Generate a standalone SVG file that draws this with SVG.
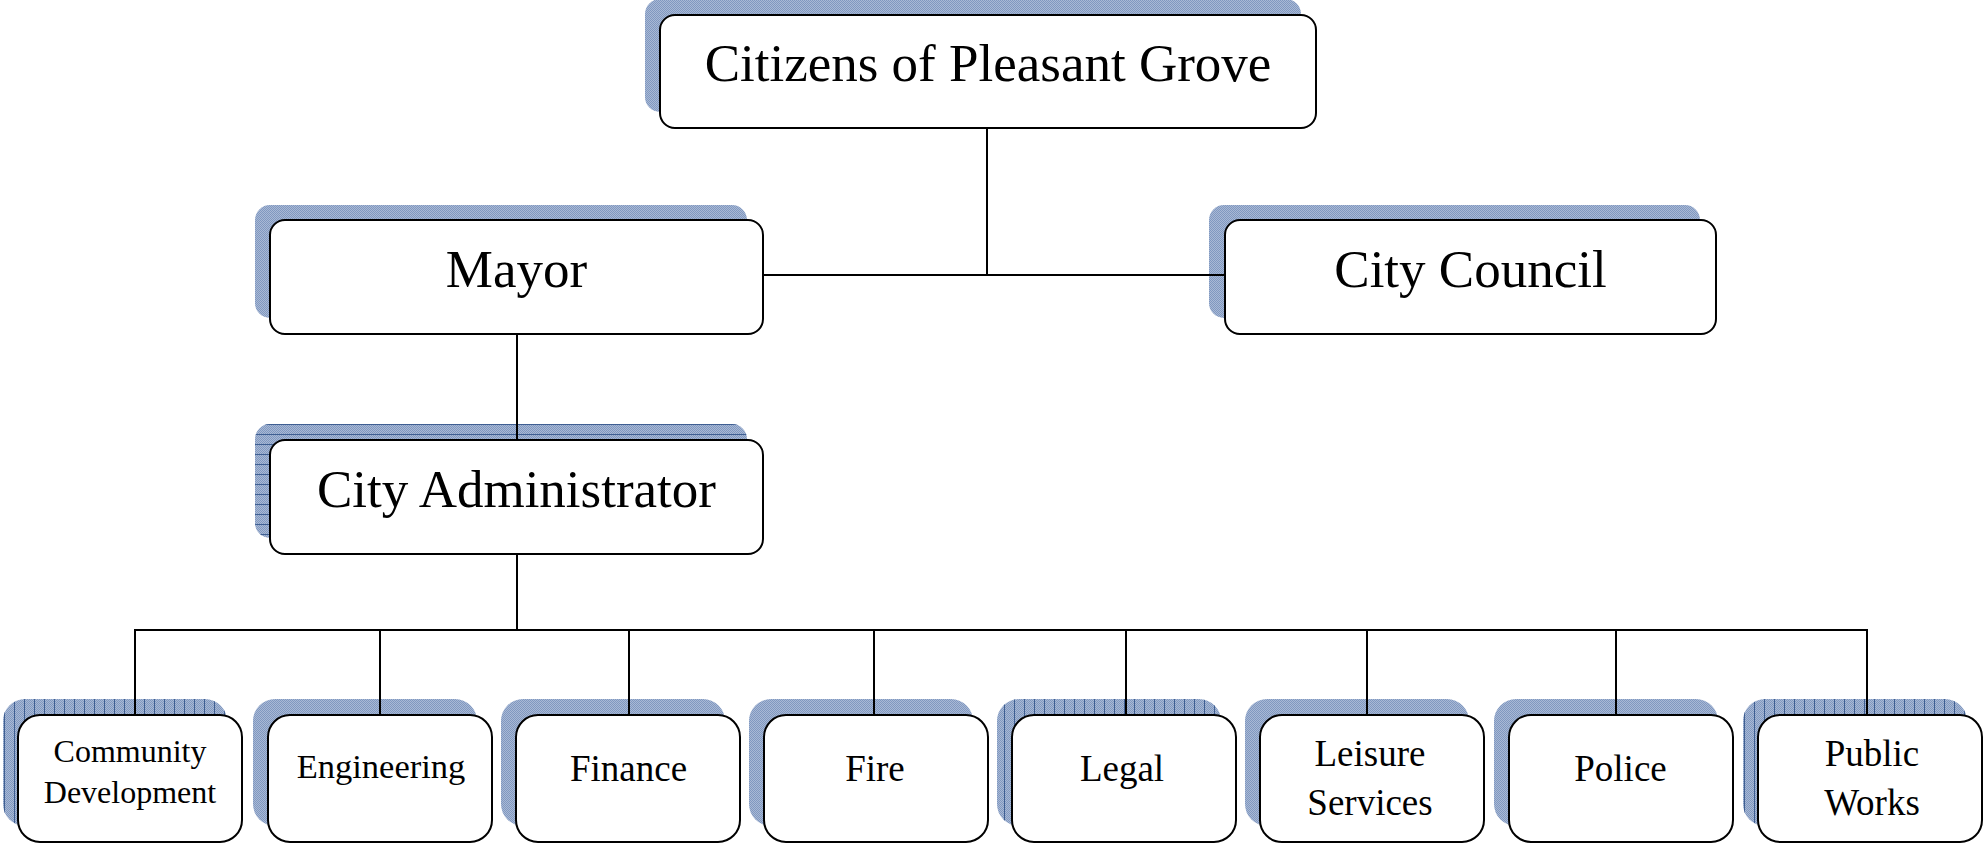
<svg xmlns="http://www.w3.org/2000/svg" width="1986" height="846" viewBox="0 0 1986 846">
<defs>
<pattern id="dither" patternUnits="userSpaceOnUse" width="2" height="2">
<rect width="2" height="2" fill="#a9b9d5"/>
<rect width="1" height="1" fill="#8098c0"/>
<rect x="1" y="1" width="1" height="1" fill="#8098c0"/>
</pattern>
<pattern id="vlines" patternUnits="userSpaceOnUse" width="10" height="10">
<rect x="4" y="0" width="1" height="10" fill="#3f5f92"/>
</pattern>
<pattern id="hlines" patternUnits="userSpaceOnUse" width="10" height="10">
<rect x="0" y="4" width="10" height="1" fill="#3f5f92"/>
</pattern>
<style>
.sh{fill:url(#dither);}
.shv{fill:url(#vlines);}
.shh{fill:url(#hlines);}
.box{fill:#ffffff;stroke:#000000;stroke-width:2;}
.t{font-family:"Liberation Serif","Times New Roman",serif;fill:#000000;text-anchor:middle;}
.big{font-size:53px;}
.sm{font-size:37px;}
.conn{stroke:#000000;stroke-width:2;fill:none;}
</style>
</defs>
<rect width="1986" height="846" fill="#ffffff"/>

<g id="citizens">
<rect class="sh" x="645" y="-1" width="656" height="113" rx="15"/>
<rect class="box" x="660" y="15" width="656" height="113" rx="15"/>
<text class="t big" x="988" y="81">Citizens of Pleasant Grove</text>
</g>

<g id="mayor">
<rect class="sh" x="255" y="205" width="492" height="113" rx="15"/>
<rect class="box" x="270" y="220" width="493" height="114" rx="15"/>
<text class="t big" x="516.5" y="287">Mayor</text>
</g>

<g id="city-council">
<rect class="sh" x="1209" y="205" width="491" height="113" rx="15"/>
<rect class="box" x="1225" y="220" width="491" height="114" rx="15"/>
<text class="t big" x="1470.5" y="287">City Council</text>
</g>

<g id="city-administrator">
<rect class="sh" x="255" y="424" width="492" height="114" rx="15"/>
<rect class="shh" x="255" y="424" width="492" height="114" rx="15"/>
<rect class="box" x="270" y="440" width="493" height="114" rx="15"/>
<text class="t big" x="516.5" y="507">City Administrator</text>
</g>

<g id="community-development">
<rect class="sh" x="3" y="699" width="224" height="127" rx="22"/>
<rect class="shv" x="3" y="699" width="224" height="127" rx="22"/>
<rect class="box" x="18" y="715" width="224" height="127" rx="22"/>
<text class="t" style="font-size:32px" x="130" y="762">Community</text>
<text class="t" style="font-size:32px" x="130" y="803">Development</text>
</g>

<g id="engineering">
<rect class="sh" x="253" y="699" width="224" height="127" rx="22"/>
<rect class="box" x="268" y="715" width="224" height="127" rx="22"/>
<text class="t" style="font-size:34.5px" x="381" y="778">Engineering</text>
</g>

<g id="finance">
<rect class="sh" x="501" y="699" width="224" height="127" rx="22"/>
<rect class="box" x="516" y="715" width="224" height="127" rx="22"/>
<text class="t sm" x="628.5" y="781">Finance</text>
</g>

<g id="fire">
<rect class="sh" x="749" y="699" width="224" height="127" rx="22"/>
<rect class="box" x="764" y="715" width="224" height="127" rx="22"/>
<text class="t sm" x="875" y="781">Fire</text>
</g>

<g id="legal">
<rect class="sh" x="997" y="699" width="224" height="127" rx="22"/>
<rect class="shv" x="997" y="699" width="224" height="127" rx="22"/>
<rect class="box" x="1012" y="715" width="224" height="127" rx="22"/>
<text class="t sm" x="1122" y="781">Legal</text>
</g>

<g id="leisure-services">
<rect class="sh" x="1245" y="699" width="224" height="127" rx="22"/>
<rect class="box" x="1260" y="715" width="224" height="127" rx="22"/>
<text class="t sm" x="1370" y="766">Leisure</text>
<text class="t sm" x="1370" y="815">Services</text>
</g>

<g id="police">
<rect class="sh" x="1494" y="699" width="224" height="127" rx="22"/>
<rect class="box" x="1509" y="715" width="224" height="127" rx="22"/>
<text class="t sm" x="1620.5" y="781">Police</text>
</g>

<g id="public-works">
<rect class="sh" x="1743" y="699" width="224" height="127" rx="22"/>
<rect class="shv" x="1743" y="699" width="224" height="127" rx="22"/>
<rect class="box" x="1758" y="715" width="224" height="127" rx="22"/>
<text class="t sm" x="1872" y="766">Public</text>
<text class="t sm" x="1872" y="815">Works</text>
</g>

<g id="connectors">
<line class="conn" x1="987" y1="128" x2="987" y2="275"/>
<line class="conn" x1="763" y1="275" x2="1225" y2="275"/>
<line class="conn" x1="517" y1="334" x2="517" y2="440"/>
<line class="conn" x1="517" y1="554" x2="517" y2="630"/>
<line class="conn" x1="134" y1="630" x2="1868" y2="630"/>
<line class="conn" x1="135" y1="630" x2="135" y2="715"/>
<line class="conn" x1="380" y1="630" x2="380" y2="715"/>
<line class="conn" x1="629" y1="630" x2="629" y2="715"/>
<line class="conn" x1="874" y1="630" x2="874" y2="715"/>
<line class="conn" x1="1126" y1="630" x2="1126" y2="715"/>
<line class="conn" x1="1367" y1="630" x2="1367" y2="715"/>
<line class="conn" x1="1616" y1="630" x2="1616" y2="715"/>
<line class="conn" x1="1867" y1="630" x2="1867" y2="715"/>
</g>
</svg>
